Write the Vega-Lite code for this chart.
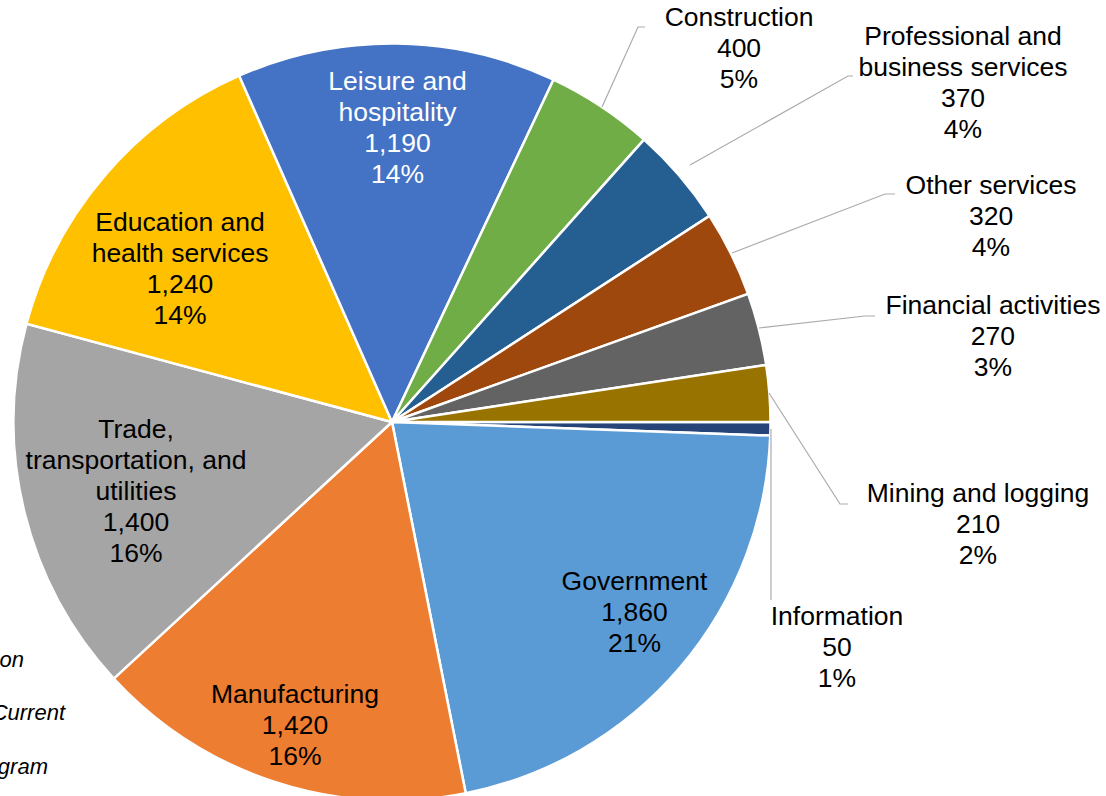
{
  "$schema": "https://vega.github.io/schema/vega-lite/v6.json",
  "width": 1106,
  "height": 796,
  "padding": 0,
  "autosize": {"type": "none"},
  "background": "white",
  "config": {"view": {"stroke": null}, "font": "Liberation Sans"},
  "datasets": {
    "jobs": [
      {"category": "Information", "value": 50},
      {"category": "Government", "value": 1860},
      {"category": "Manufacturing", "value": 1420},
      {"category": "Trade, transportation, and utilities", "value": 1400},
      {"category": "Education and health services", "value": 1240},
      {"category": "Leisure and hospitality", "value": 1190},
      {"category": "Construction", "value": 400},
      {"category": "Professional and business services", "value": 370},
      {"category": "Other services", "value": 320},
      {"category": "Financial activities", "value": 270},
      {"category": "Mining and logging", "value": 210}
    ],
    "labels": [
      {"category": "Information", "name": "Information", "u": 1.1772, "v": -0.5159},
      {"category": "Government", "name": "Government", "u": 0.6415, "v": -0.4233},
      {"category": "Manufacturing", "name": "Manufacturing", "u": -0.2566, "v": -0.7222},
      {"category": "Trade, transportation, and utilities", "name": "Trade,\ntransportation, and\nutilities", "u": -0.6772, "v": -0.0212},
      {"category": "Education and health services", "name": "Education and\nhealth services", "u": -0.5608, "v": 0.5265},
      {"category": "Leisure and hospitality", "name": "Leisure and\nhospitality", "u": 0.0146, "v": 0.8995},
      {"category": "Construction", "name": "Construction", "u": 0.918, "v": 1.0688},
      {"category": "Professional and business services", "name": "Professional and\nbusiness services", "u": 1.5106, "v": 1.0185},
      {"category": "Other services", "name": "Other services", "u": 1.5847, "v": 0.6243},
      {"category": "Financial activities", "name": "Financial activities", "u": 1.5899, "v": 0.3069},
      {"category": "Mining and logging", "name": "Mining and logging", "u": 1.5503, "v": -0.1905}
    ],
    "leaders": [
      {"category": "Construction", "step": 1, "u": 0.5556, "v": 0.8333},
      {"category": "Construction", "step": 2, "u": 0.6508, "v": 1.045},
      {"category": "Construction", "step": 3, "u": 0.6693, "v": 1.045},
      {"category": "Professional and business services", "step": 1, "u": 0.7884, "v": 0.6799},
      {"category": "Professional and business services", "step": 2, "u": 1.2063, "v": 0.9153},
      {"category": "Professional and business services", "step": 3, "u": 1.2196, "v": 0.9153},
      {"category": "Other services", "step": 1, "u": 0.8995, "v": 0.4471},
      {"category": "Other services", "step": 2, "u": 1.3042, "v": 0.6032},
      {"category": "Other services", "step": 3, "u": 1.3307, "v": 0.6032},
      {"category": "Financial activities", "step": 1, "u": 0.9709, "v": 0.2487},
      {"category": "Financial activities", "step": 2, "u": 1.2513, "v": 0.2804},
      {"category": "Financial activities", "step": 3, "u": 1.2778, "v": 0.2804},
      {"category": "Mining and logging", "step": 1, "u": 0.9974, "v": 0.0767},
      {"category": "Mining and logging", "step": 2, "u": 1.1852, "v": -0.2169},
      {"category": "Mining and logging", "step": 3, "u": 1.2063, "v": -0.2169},
      {"category": "Information", "step": 1, "u": 1.0026, "v": -0.0185},
      {"category": "Information", "step": 2, "u": 1.0026, "v": -0.4709}
    ],
    "note": [
      {"t": "on", "u": -0.9735, "v": -0.6296},
      {"t": "Current", "u": -0.8651, "v": -0.7698},
      {"t": "gram", "u": -0.9101, "v": -0.9127}
    ]
  },
  "layer": [
    {
      "data": {"name": "jobs"},
      "transform": [{"window": [{"op": "row_number", "as": "idx"}]}],
      "mark": {"type": "arc", "outerRadius": 378.5, "stroke": "white", "strokeWidth": 2.5},
      "encoding": {
        "theta": {"field": "value", "type": "quantitative", "stack": true, "scale": {"range": [1.5707963, 7.8539816], "nice": false}},
        "order": {"field": "idx", "type": "quantitative"},
        "color": {
          "field": "category", "type": "nominal", "legend": null,
          "scale": {
            "domain": ["Information", "Government", "Manufacturing", "Trade, transportation, and utilities", "Education and health services", "Leisure and hospitality", "Construction", "Professional and business services", "Other services", "Financial activities", "Mining and logging"],
            "range": ["#264478", "#5B9BD5", "#ED7D31", "#A5A5A5", "#FFC000", "#4472C4", "#70AD47", "#255E91", "#9E480E", "#636363", "#997300"]
          }
        },
        "x": {"datum": 0, "type": "quantitative", "axis": null, "scale": {"domain": [-1.037037, 1.888889], "nice": false, "zero": false}},
        "y": {"datum": 0, "type": "quantitative", "axis": null, "scale": {"domain": [-0.989418, 1.116402], "nice": false, "zero": false}}
      }
    },
    {
      "data": {"name": "leaders"},
      "mark": {"type": "line", "color": "#ABABAB", "strokeWidth": 1.2},
      "encoding": {
        "x": {"field": "u", "type": "quantitative", "axis": null, "scale": {"domain": [-1.037037, 1.888889], "nice": false, "zero": false}},
        "y": {"field": "v", "type": "quantitative", "axis": null, "scale": {"domain": [-0.989418, 1.116402], "nice": false, "zero": false}},
        "detail": {"field": "category", "type": "nominal"},
        "order": {"field": "step", "type": "quantitative"}
      }
    },
    {
      "data": {"name": "labels"},
      "transform": [
        {"lookup": "category", "from": {"data": {"name": "jobs"}, "key": "category", "fields": ["value"]}},
        {"joinaggregate": [{"op": "sum", "field": "value", "as": "total"}]},
        {"calculate": "datum.name + '\\n' + format(datum.value, ',') + '\\n' + format(datum.value / datum.total, '.0%')", "as": "label"}
      ],
      "mark": {"type": "text", "lineBreak": "\n", "fontSize": 26.5, "lineHeight": 31, "align": "center", "baseline": "middle", "font": "Liberation Sans"},
      "encoding": {
        "x": {"field": "u", "type": "quantitative", "axis": null, "scale": {"domain": [-1.037037, 1.888889], "nice": false, "zero": false}},
        "y": {"field": "v", "type": "quantitative", "axis": null, "scale": {"domain": [-0.989418, 1.116402], "nice": false, "zero": false}},
        "text": {"field": "label", "type": "nominal"},
        "color": {"condition": {"test": "datum.category === 'Leisure and hospitality'", "value": "white"}, "value": "black"}
      }
    },
    {
      "data": {"name": "note"},
      "mark": {"type": "text", "fontSize": 22, "fontStyle": "italic", "align": "right", "baseline": "middle", "font": "Liberation Sans", "color": "black"},
      "encoding": {
        "x": {"field": "u", "type": "quantitative", "axis": null, "scale": {"domain": [-1.037037, 1.888889], "nice": false, "zero": false}},
        "y": {"field": "v", "type": "quantitative", "axis": null, "scale": {"domain": [-0.989418, 1.116402], "nice": false, "zero": false}},
        "text": {"field": "t", "type": "nominal"}
      }
    }
  ]
}
